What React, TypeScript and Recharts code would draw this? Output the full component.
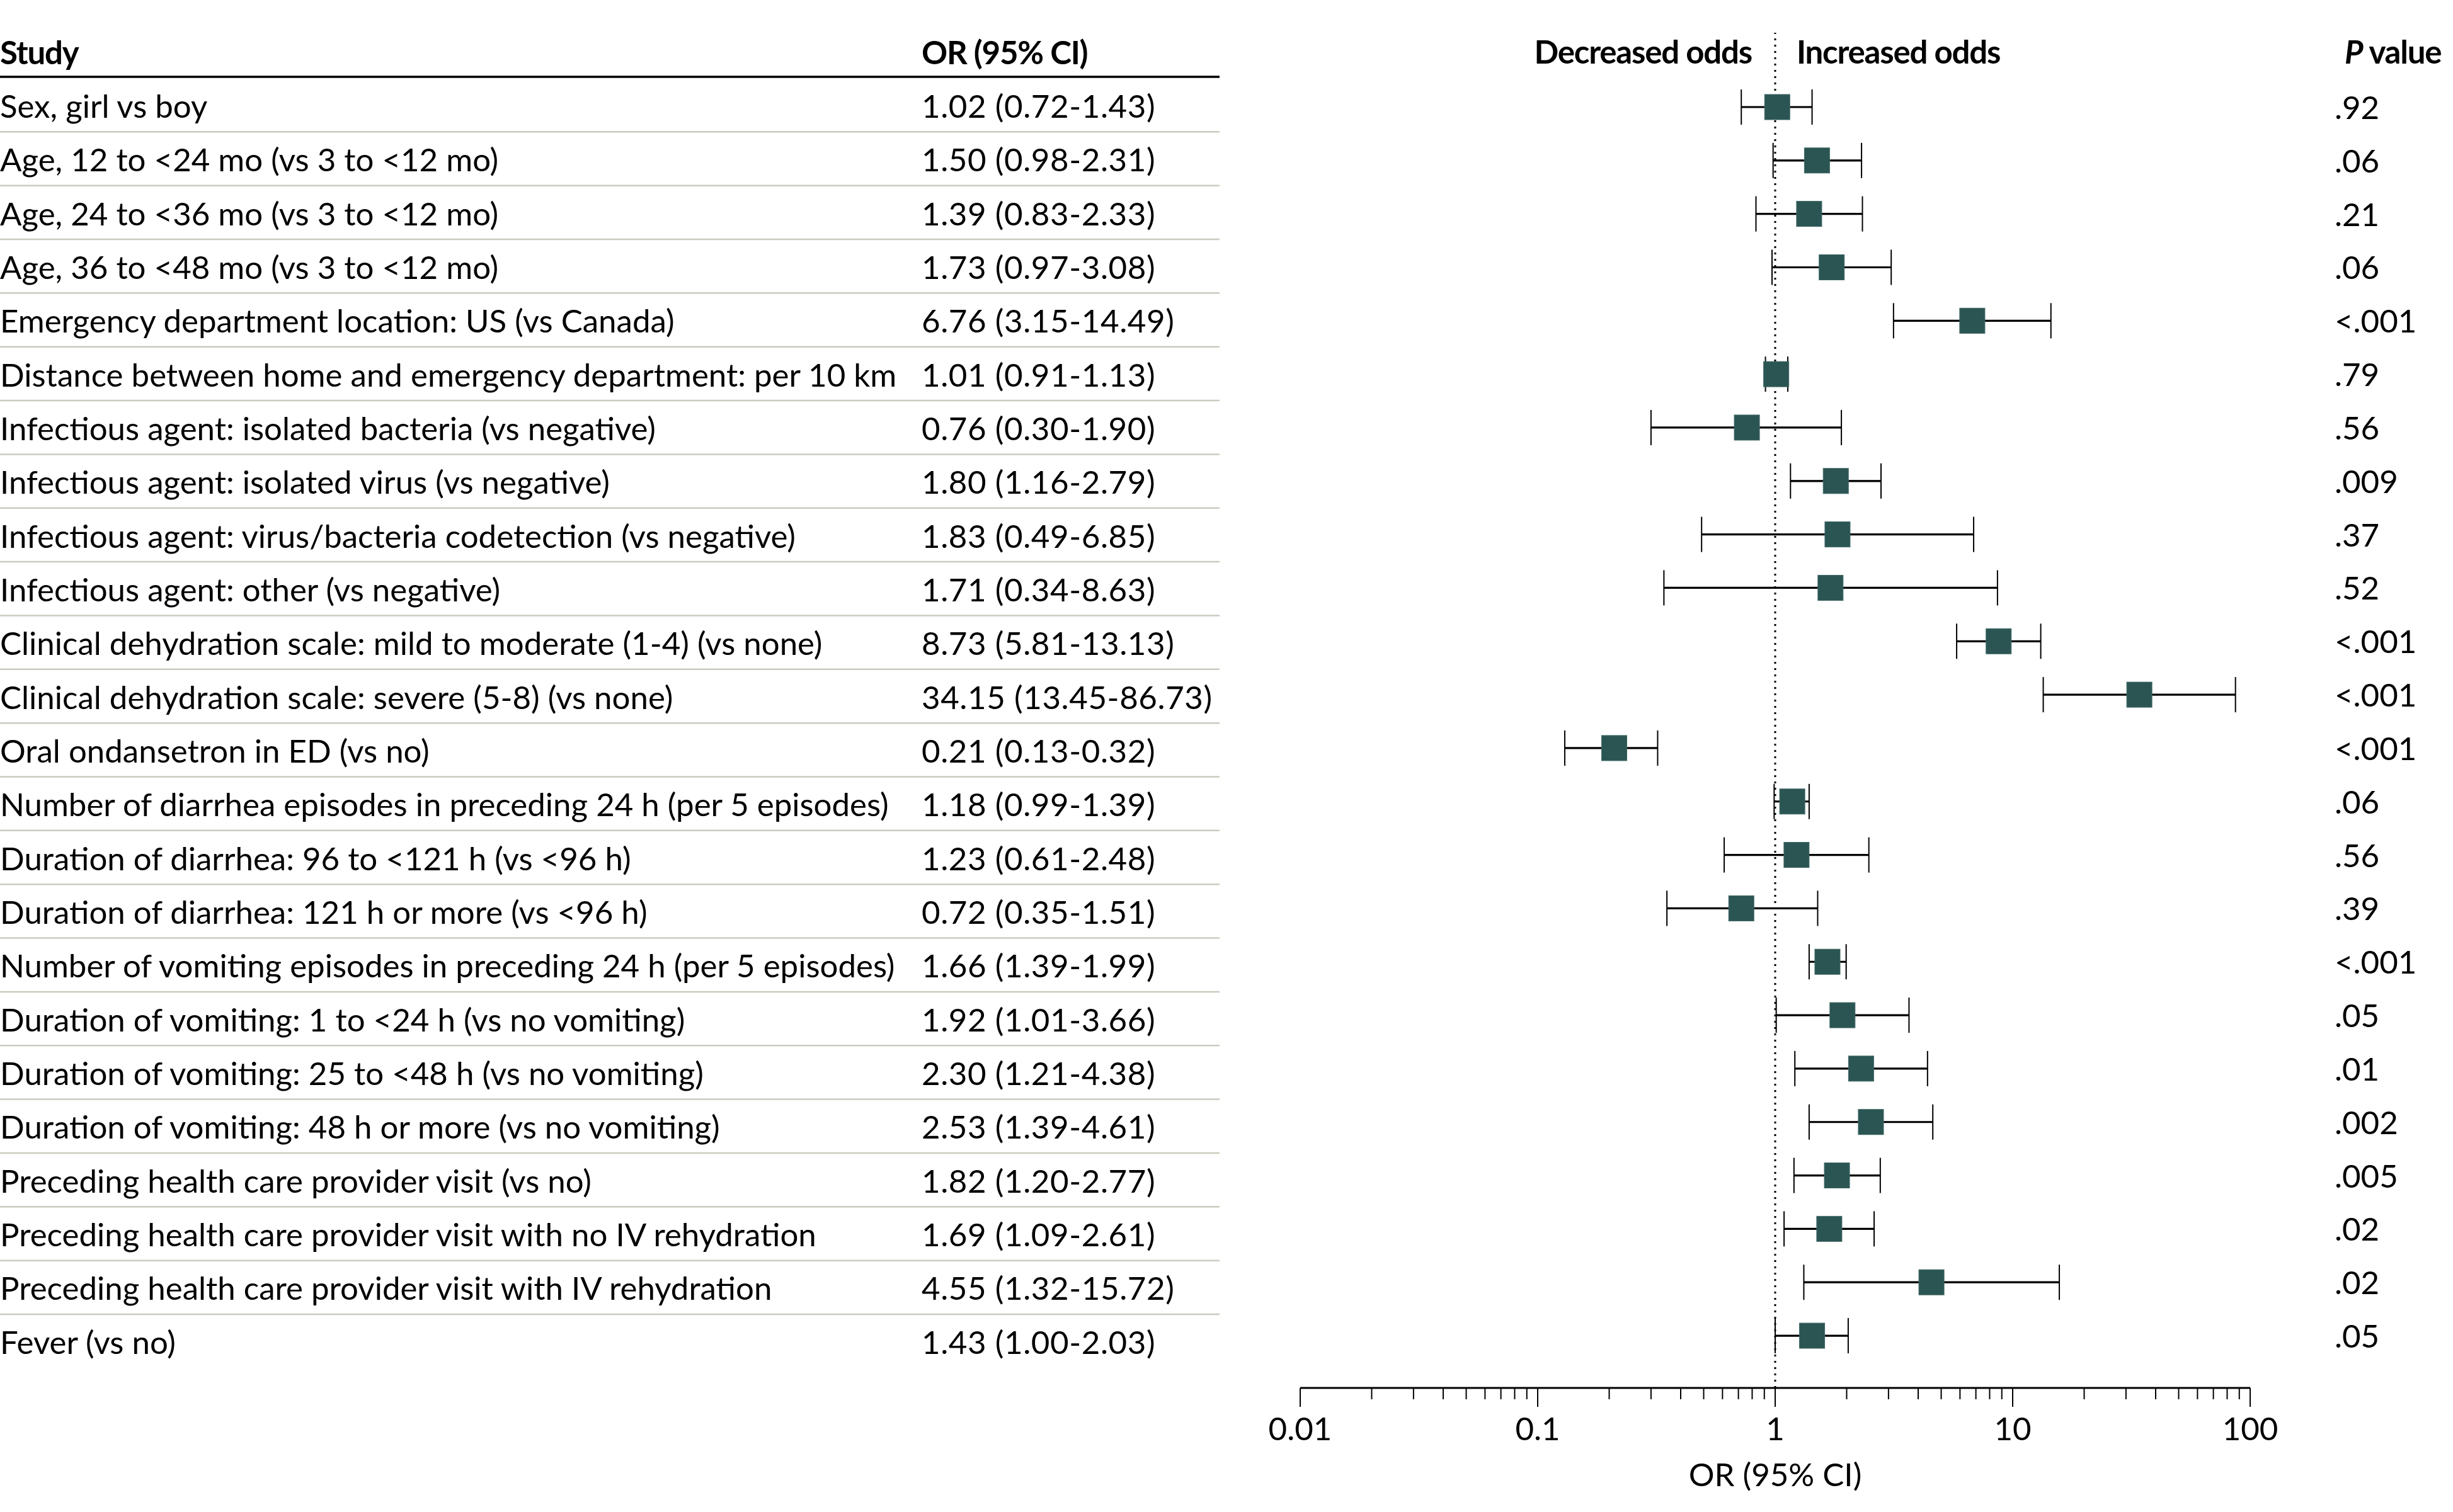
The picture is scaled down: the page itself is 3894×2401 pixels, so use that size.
import React from 'react';
import { ComposedChart, Customized, ErrorBar, ReferenceLine, Scatter, XAxis, YAxis } from 'recharts';

const studies = [
  'Sex, girl vs boy',
  'Age, 12 to <24 mo (vs 3 to <12 mo)',
  'Age, 24 to <36 mo (vs 3 to <12 mo)',
  'Age, 36 to <48 mo (vs 3 to <12 mo)',
  'Emergency department location: US (vs Canada)',
  'Distance between home and emergency department: per 10 km',
  'Infectious agent: isolated bacteria (vs negative)',
  'Infectious agent: isolated virus (vs negative)',
  'Infectious agent: virus/bacteria codetection (vs negative)',
  'Infectious agent: other (vs negative)',
  'Clinical dehydration scale: mild to moderate (1-4) (vs none)',
  'Clinical dehydration scale: severe (5-8) (vs none)',
  'Oral ondansetron in ED (vs no)',
  'Number of diarrhea episodes in preceding 24 h (per 5 episodes)',
  'Duration of diarrhea: 96 to <121 h (vs <96 h)',
  'Duration of diarrhea: 121 h or more (vs <96 h)',
  'Number of vomiting episodes in preceding 24 h (per 5 episodes)',
  'Duration of vomiting: 1 to <24 h (vs no vomiting)',
  'Duration of vomiting: 25 to <48 h (vs no vomiting)',
  'Duration of vomiting: 48 h or more (vs no vomiting)',
  'Preceding health care provider visit (vs no)',
  'Preceding health care provider visit with no IV rehydration',
  'Preceding health care provider visit with IV rehydration',
  'Fever (vs no)',
];

const oddsRatios = [1.02, 1.5, 1.39, 1.73, 6.76, 1.01, 0.76, 1.8, 1.83, 1.71, 8.73, 34.15, 0.21, 1.18, 1.23, 0.72, 1.66, 1.92, 2.3, 2.53, 1.82, 1.69, 4.55, 1.43];
const lowerCI = [0.72, 0.98, 0.83, 0.97, 3.15, 0.91, 0.3, 1.16, 0.49, 0.34, 5.81, 13.45, 0.13, 0.99, 0.61, 0.35, 1.39, 1.01, 1.21, 1.39, 1.2, 1.09, 1.32, 1.0];
const upperCI = [1.43, 2.31, 2.33, 3.08, 14.49, 1.13, 1.9, 2.79, 6.85, 8.63, 13.13, 86.73, 0.32, 1.39, 2.48, 1.51, 1.99, 3.66, 4.38, 4.61, 2.77, 2.61, 15.72, 2.03];
const pValues = ['.92', '.06', '.21', '.06', '<.001', '.79', '.56', '.009', '.37', '.52', '<.001', '<.001', '<.001', '.06', '.56', '.39', '<.001', '.05', '.01', '.002', '.005', '.02', '.02', '.05'];

const majorTicks = [0.01, 0.1, 1, 10, 100];
const majorTickLabels = ['0.01', '0.1', '1', '10', '100'];
const minorSteps = [2, 3, 4, 5, 6, 7, 8, 9];

const rows = studies.map((study, i) => ({
  row: i,
  study,
  or: oddsRatios[i],
  err: [oddsRatios[i] - lowerCI[i], upperCI[i] - oddsRatios[i]],
  ci: `${oddsRatios[i].toFixed(2)} (${lowerCI[i].toFixed(2)}-${upperCI[i].toFixed(2)})`,
  p: pValues[i],
}));
const rowTicks = rows.map((r) => r.row);
const axisTicks = [
  ...majorTicks,
  ...majorTicks.slice(0, -1).flatMap((d) => minorSteps.map((m) => m * d)),
].sort((a, b) => a - b);

const FONT = 'Lato';
const FS = 51;

function TableTick(props: any) {
  const { y, payload } = props;
  const r = rows[payload.value];
  if (!r) return null;
  return (
    <g>
      <text x={0} y={y + 18.3} fontFamily={FONT} fontSize={FS} fill="#000">{r.study}</text>
      <text x={1463} y={y + 18.3} fontFamily={FONT} fontSize={FS} letterSpacing={0.6} fill="#000">{r.ci}</text>
      {r.row < rows.length - 1 && (
        <line x1={0} x2={1936} y1={y + 40.8} y2={y + 40.8} stroke="#c9ccbf" strokeWidth={2.5} />
      )}
    </g>
  );
}

function PTick(props: any) {
  const { y, payload } = props;
  const r = rows[payload.value];
  if (!r) return null;
  return (
    <text x={3706} y={y + 19} fontFamily={FONT} fontSize={FS} fill="#000">{r.p}</text>
  );
}

function OrTick(props: any) {
  const { x, y, payload } = props;
  const idx = majorTicks.indexOf(payload.value);
  const major = idx >= 0;
  return (
    <g>
      <line x1={x} x2={x} y1={y} y2={y + (major ? 30 : 18)} stroke="#000" strokeWidth={2} />
      {major && (
        <text x={x} y={y + 83} textAnchor="middle" fontFamily={FONT} fontSize={FS} fill="#000">
          {majorTickLabels[idx]}
        </text>
      )}
    </g>
  );
}

function Square(props: any) {
  const { cx, cy } = props;
  if (cx == null || cy == null) return null;
  return <rect x={cx - 20} y={cy - 20} width={40} height={40} fill="#2b5553" stroke="#3f6866" strokeWidth={1} />;
}

function Headers() {
  const bold = { fontFamily: FONT, fontSize: FS, fontWeight: 700, fill: '#000', letterSpacing: -1.2 };
  return (
    <g>
      <text x={0} y={102} {...bold}>Study</text>
      <text x={1463} y={102} {...bold}>OR (95% CI)</text>
      <text x={2781} y={101} textAnchor="end" {...bold}>Decreased odds</text>
      <text x={2852} y={101} {...bold}>Increased odds</text>
      <text x={3722} y={101} {...bold}>
        <tspan fontStyle="italic">P</tspan> value
      </text>
      <line x1={0} x2={1936} y1={122} y2={122} stroke="#000" strokeWidth={3.5} />
    </g>
  );
}

export default function App() {
  return (
    <div style={{ position: 'absolute', left: 0, top: 0, background: '#fff' }}>
      <ComposedChart width={3894} height={2401} margin={{ top: 52, right: 0, bottom: 0, left: 0 }}>
        <XAxis
          xAxisId="or"
          type="number"
          dataKey="or"
          scale="log"
          domain={[0.01, 100]}
          allowDataOverflow
          ticks={axisTicks}
          interval={0}
          height={197}
          tickSize={0}
          tickMargin={0}
          tickLine={false}
          tick={<OrTick />}
          axisLine={{ stroke: '#000', strokeWidth: 3 }}
          label={{ value: 'OR (95% CI)', position: 'insideBottom', offset: 41, fill: '#000', fontSize: FS, fontFamily: FONT }}
        />
        <YAxis
          yAxisId="table"
          orientation="left"
          type="number"
          dataKey="row"
          width={2064}
          domain={[-1.365, 23.849]}
          allowDataOverflow
          reversed
          ticks={rowTicks}
          interval={0}
          tickLine={false}
          axisLine={false}
          tick={<TableTick />}
        />
        <YAxis
          yAxisId="plot"
          orientation="right"
          type="number"
          dataKey="row"
          width={322}
          domain={[-1.391, 23.978]}
          allowDataOverflow
          reversed
          ticks={rowTicks}
          interval={0}
          tickLine={false}
          axisLine={false}
          tick={<PTick />}
        />
        <ReferenceLine xAxisId="or" yAxisId="plot" x={1} stroke="#000" strokeWidth={3} strokeDasharray="3 7" />
        <Scatter data={rows} xAxisId="or" yAxisId="plot" dataKey="or" shape={<Square />} isAnimationActive={false}>
          <ErrorBar dataKey="err" direction="x" width={28} stroke="#000" strokeWidth={2} isAnimationActive={false} />
          <ErrorBar dataKey="err" direction="x" width={0} stroke="#000" strokeWidth={3.2} isAnimationActive={false} />
        </Scatter>
        <Customized component={<Headers />} />
      </ComposedChart>
    </div>
  );
}
